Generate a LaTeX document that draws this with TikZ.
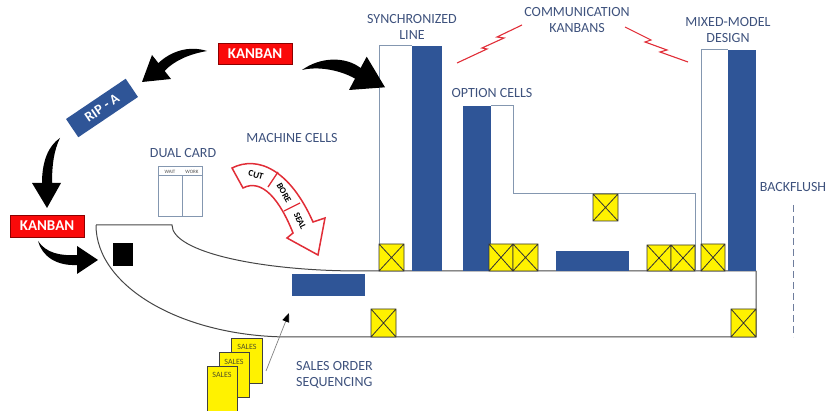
\documentclass[tikz,border=0pt]{standalone}
\usepackage{fontspec}
\setmainfont{Carlito}
\usetikzlibrary{arrows.meta}
\definecolor{lbl}{RGB}{62,82,125}
\definecolor{barblue}{RGB}{47,85,151}
\definecolor{outl}{RGB}{132,151,176}
\definecolor{kred}{RGB}{250,10,10}
\definecolor{track}{RGB}{70,70,70}
\definecolor{mred}{RGB}{225,45,55}
\definecolor{salestxt}{RGB}{80,80,40}
\newcommand\xbox[4]{\draw[xboxstyle] (#1,#2) rectangle (#3,#4) (#1,#2) -- (#3,#4) (#1,#4) -- (#3,#2);}
\tikzset{
  lbltext/.style={text=lbl, font=\fontsize{14}{16.5}\selectfont, align=center, inner sep=0pt},
  kanban/.style={fill=kred, draw=red!55!black, line width=0.8pt, text=white, font=\bfseries\fontsize{15}{18}\selectfont, minimum width=74pt, minimum height=21pt, inner sep=0pt},
  bar/.style={fill=barblue, draw=none},
  outline/.style={draw=outl, line width=1pt},
  trackline/.style={draw=track, line width=1pt},
  xboxstyle/.style={fill=yellow, draw=black!80, line width=0.8pt},
  bigarrow/.style={fill=black, draw=none},
  salescard/.style={fill=yellow, draw=black!75, line width=0.8pt},
  saleslbl/.style={text=salestxt, font=\fontsize{8}{9}\selectfont, inner sep=0pt},
  bolt/.style={draw=mred, line width=1.1pt, line join=miter},
  cardtxt/.style={text=black!70, font=\fontsize{5}{6}\selectfont, inner sep=0pt},
  celltxt/.style={font=\bfseries\fontsize{9}{10}\selectfont, inner sep=0pt}
}
\begin{document}
\begin{tikzpicture}[x=1pt,y=-1pt]
\useasboundingbox (0,0) rectangle (836,411);

% ---- track ----
\draw[trackline] (96,225) -- (172,225) .. controls (172,252) and (260,271) .. (360,271) -- (756,271);
\draw[trackline] (96,225) .. controls (96,287) and (183,337) .. (290,337) -- (756,337) -- (756,271);

% ---- synchronized line ----
\draw[outline] (412,46) -- (379,46) -- (379,271);
\fill[bar] (412,46) rectangle (442,271);
\xbox{379}{244}{404}{271}

% ---- option cells ----
\fill[bar] (463,106) rectangle (491,271);
\draw[outline] (491,106) -- (513,106) -- (513,194) -- (695,194) -- (695,271);
\xbox{489}{244}{513}{271}
\xbox{513}{244}{538}{271}
\xbox{593}{194}{618}{221}
\fill[bar] (556,251) rectangle (629,271);
\xbox{647}{245}{671}{271}
\xbox{671}{245}{695}{271}

% ---- mixed model ----
\draw[outline] (728,50) -- (701,50) -- (701,271);
\fill[bar] (728,50) rectangle (756,271);
\xbox{701}{244}{725}{271}

% ---- lower track items ----
\fill[bar] (292,274) rectangle (365,296);
\xbox{371}{309}{396}{337}
\xbox{731}{309}{756}{337}
\fill[black] (113,243) rectangle (133,266);

% ---- backflush ----
\draw[draw=lbl!75, line width=1pt, dash pattern=on 7pt off 4pt] (793,205) -- (793,337);

% ---- lightning ----
\draw[bolt] (457,63) -- (487,49) -- (482,48) -- (504,38) -- (497,37) -- (522,25);
\draw[bolt] (625,27) -- (651,40) -- (645,42) -- (667,50) -- (660,52) -- (688,62);

% ---- labels ----
\node[lbltext] (sync) at (412,27) {SYNCHRONIZED\\LINE};
\node[lbltext] (comm) at (577,20) {COMMUNICATION\\KANBANS};
\node[lbltext] (mixed) at (728,30) {MIXED-MODEL\\DESIGN};
\node[lbltext] (opt) at (492,93) {OPTION CELLS};
\node[lbltext] (back) at (793,187) {BACKFLUSH};
\node[lbltext] (mach) at (292,138) {MACHINE CELLS};
\node[lbltext] (dual) at (183,153) {DUAL CARD};
\node[lbltext, align=left, anchor=west] (seq) at (296,375) {SALES ORDER\\SEQUENCING};

% ---- dual card ----
\draw[outline] (158,167) rectangle (202,217);
\draw[outline] (158,176) -- (202,176) (182,176) -- (182,217);
\node[cardtxt] (wait) at (170,171.7) {WAIT};
\node[cardtxt] (work) at (192,171.7) {WORK};

% ---- kanbans ----
\node[kanban] (k1) at (255,53.5) {KANBAN};
\node[kanban, minimum height=22pt] (k2) at (47,226) {KANBAN};
\node[fill=barblue, text=white, font=\bfseries\fontsize{14}{16}\selectfont, minimum width=72pt, minimum height=22pt, inner sep=0pt, rotate=34] (rip) at (102,108) {RIP - A};

% ---- curved black arrows ----
\fill[bigarrow] (207,51) .. controls (188,45) and (170,52) .. (158.4,63.1) -- (152,55) -- (142,82) -- (171,79) -- (164.6,70.9) .. controls (175,60) and (190,54) .. cycle;
\fill[bigarrow] (302,70) .. controls (320,57) and (345,56) .. (360.6,68) -- (366.7,56.7) -- (385,87.3) -- (349,90) -- (355,78.6) .. controls (340,70) and (318,66) .. cycle;
\fill[bigarrow] (60,138) .. controls (48,146) and (42,162) .. (42,183) -- (32,183) -- (47,208) -- (61,183) -- (52,183) .. controls (52,165) and (54,150) .. cycle;
\fill[bigarrow] (38,241) .. controls (46,253) and (60,256) .. (77,255) -- (77,246) -- (98,260) -- (77,274) -- (77,265) .. controls (56,266) and (42,256) .. cycle;

% ---- machine cells arrow ----
\draw[draw=mred, line width=1.5pt, fill=white, line join=miter] (232,168) .. controls (258,155) and (290,170) .. (313,222) -- (325,218) -- (318,255) -- (287,238) -- (293,233) .. controls (280,200) and (262,178) .. (243,188) -- cycle;
\draw[draw=mred, line width=1.3pt] (278,172) -- (268,187) (300,203) -- (284,211);
\node[celltxt, rotate=-15] (cut) at (256,175) {CUT};
\node[celltxt, rotate=-60] (bore) at (284,193) {BORE};
\node[celltxt, rotate=-65] (seal) at (300,221) {SEAL};

% ---- sales cards ----
\draw[salescard] (231,338) rectangle (262,383);
\node[saleslbl] (s3) at (247,347) {SALES};
\draw[salescard] (219,352) rectangle (249,397);
\node[saleslbl] (s2) at (234,362) {SALES};
\draw[salescard] (207,366) rectangle (237,411);
\node[saleslbl] (s1) at (222,375) {SALES};
\coordinate (sq) at (289,313);
\draw[draw=gray, line width=0.7pt, -{Triangle[length=9pt,width=7pt,color=black]}] (266,371) -- (sq);
\end{tikzpicture}
\end{document}
